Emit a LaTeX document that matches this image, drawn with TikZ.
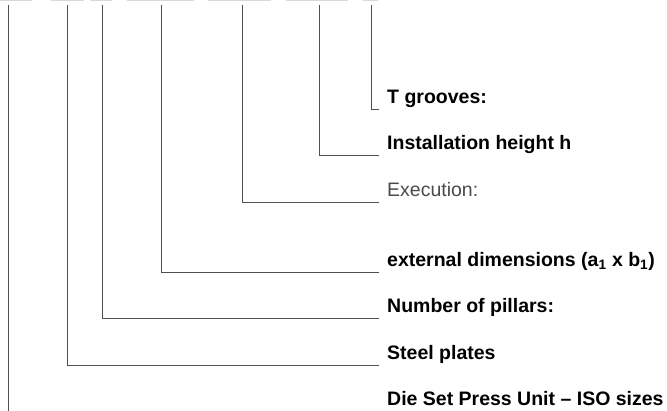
\documentclass[tikz,border=0pt]{standalone}
\usepackage{fontspec}
\setmainfont{Liberation Sans}
\definecolor{leadgray}{HTML}{505050}
\definecolor{bargray}{HTML}{D9D9D9}
\definecolor{txtgray}{HTML}{4A4A4A}
\begin{document}
\begin{tikzpicture}[x=1pt,y=-1pt]
	\tikzstyle{every node}+=[inner xsep=8pt, inner ysep=6.5pt, text depth=0pt, anchor=south west, font=\fontsize{19.5}{23}\selectfont\bfseries]
	\tikzstyle{lead}=[leadgray, line width=1pt]
	\useasboundingbox (0,0) rectangle (667,411);
	% grey bars cut off at the top edge
	\fill [bargray] (0,0) rectangle (32,1.5);
	\fill [bargray] (51,0) rectangle (84,1.5);
	\fill [bargray] (90,0) rectangle (112,1.5);
	\fill [bargray] (127,0) rectangle (194,1.5);
	\fill [bargray] (208,0) rectangle (271,1.5);
	\fill [bargray] (286,0) rectangle (348,1.5);
	\fill [bargray] (363,0) rectangle (378,1.5);
	% tops of the leads
	\coordinate (c1) at (8,5);
	\coordinate (c2) at (67,5);
	\coordinate (c3) at (102,5);
	\coordinate (c4) at (161,5);
	\coordinate (c5) at (242,5);
	\coordinate (c6) at (319,5);
	\coordinate (c7) at (371,5);
	\coordinate (b1) at (8,411);
	% labels
	\node (tnut) at (379,110) {T grooves:};
	\node (hoehe) at (379,156) {Installation height h};
	\node [font=\fontsize{19.5}{23}\selectfont, text=txtgray] (ausf) at (379,203) {Execution:};
	\node (mass) at (379,273) {external dimensions (a\textsubscript{1} x b\textsubscript{1})};
	\node (saeulen) at (379,319) {Number of pillars:};
	\node (platten) at (379,366) {Steel plates};
	\node (titel) at (379,412) {Die Set Press Unit -- ISO sizes};
	% leads
	\draw [lead] (c1) -- (b1);
	\draw [lead] (c2) |- (platten.south west);
	\draw [lead] (c3) |- (saeulen.south west);
	\draw [lead] (c4) |- (mass.south west);
	\draw [lead] (c5) |- (ausf.south west);
	\draw [lead] (c6) |- (hoehe.south west);
	\draw [lead] (c7) |- (tnut.south west);
\end{tikzpicture}
\end{document}
